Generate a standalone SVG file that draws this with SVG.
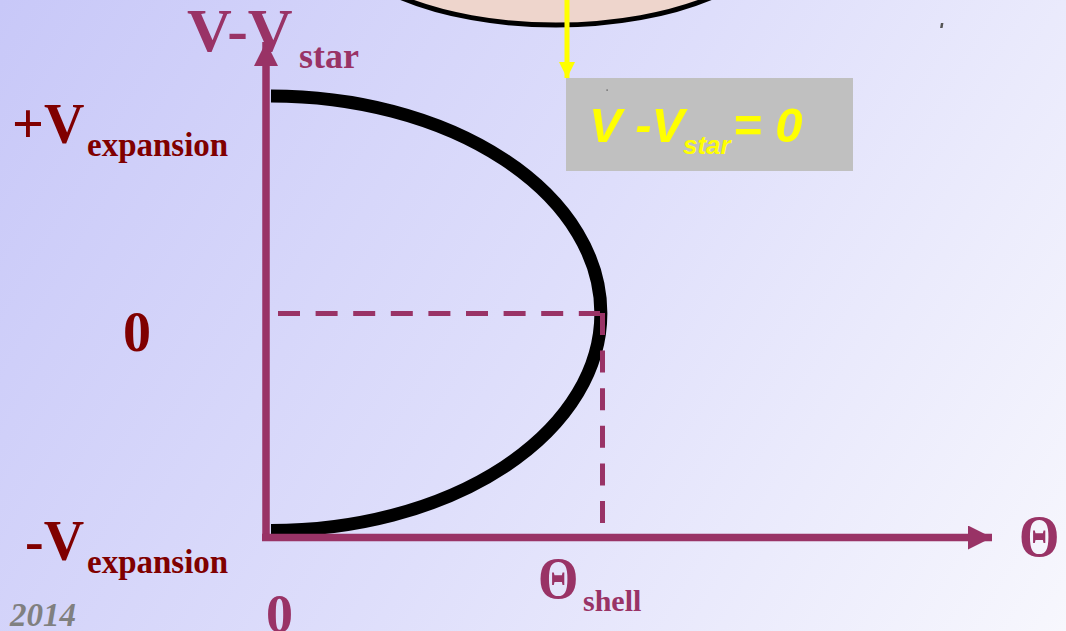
<svg xmlns="http://www.w3.org/2000/svg" width="1066" height="631" viewBox="0 0 1066 631">
  <defs>
    <linearGradient id="bg" x1="0" y1="0" x2="1066" y2="631" gradientUnits="userSpaceOnUse">
      <stop offset="0" stop-color="#c8c8f8"/>
      <stop offset="0.5" stop-color="#dedefb"/>
      <stop offset="1" stop-color="#f7f7fd"/>
    </linearGradient>
    <marker id="axisHead" viewBox="0 0 10 10" refX="10" refY="5" markerUnits="userSpaceOnUse" markerWidth="24" markerHeight="24" orient="auto">
      <path d="M0,0 L10,5 L0,10 Z" fill="#993366"/>
    </marker>
    <marker id="yellowHead" viewBox="0 0 10 10" refX="10" refY="5" markerUnits="userSpaceOnUse" markerWidth="16" markerHeight="16" orient="auto">
      <path d="M0,0 L10,5 L0,10 Z" fill="#ffff00"/>
    </marker>
  </defs>
  <style>
    .axis { stroke: #993366; stroke-width: 7.5; fill: none; }
    .dash { stroke: #993366; stroke-width: 5; stroke-dasharray: 22 15.6; fill: none; }
    .lblP { font-family: "Liberation Serif", serif; font-weight: bold; fill: #993366; }
    .lblR { font-family: "Liberation Serif", serif; font-weight: bold; fill: #800000; }
    .boxTxt { font-family: "Liberation Sans", sans-serif; font-weight: bold; font-style: italic; fill: #ffff00; }
  </style>

  <rect x="0" y="0" width="1066" height="631" fill="url(#bg)"/>

  <g id="star-ellipse">
    <ellipse cx="556" cy="-80" rx="230" ry="105" fill="#eed5cc" stroke="#000" stroke-width="5"/>
  </g>

  <g id="note-box">
    <rect x="566" y="78" width="287" height="93" fill="#c0c0c0"/>
    <text class="boxTxt"><tspan x="589" y="142" font-size="49">V -V</tspan><tspan x="683" y="154" font-size="26">star</tspan><tspan x="733" y="142" font-size="49">= 0</tspan></text>
    <rect x="606.5" y="89.5" width="1.2" height="1.2" fill="#444"/>
  </g>

  <rect x="941" y="23" width="2.5" height="5" fill="#555" transform="skewX(-10) translate(4 0)"/>

  <g id="curve">
    <path d="M271,96 A330,217.25 0 0 1 271,530.5" fill="none" stroke="#000" stroke-width="13"/>
  </g>

  <g id="connectors">
    <line x1="567" y1="0" x2="567" y2="78" stroke="#ffff00" stroke-width="5" marker-end="url(#yellowHead)"/>
    <line class="axis" x1="266" y1="541" x2="266" y2="42" marker-end="url(#axisHead)"/>
    <line class="axis" x1="262" y1="537.5" x2="992" y2="537.5" marker-end="url(#axisHead)"/>
    <line class="dash" x1="278" y1="313.5" x2="600" y2="313.5"/>
    <line class="dash" x1="602.5" y1="313" x2="602.5" y2="524"/>
  </g>

  <g id="label-vvstar">
    <text class="lblP"><tspan x="187" y="51" font-size="62">V-V</tspan><tspan x="299" y="68" font-size="36">star</tspan></text>
  </g>
  <g id="label-plus-vexp">
    <text class="lblR"><tspan x="12" y="143" font-size="56">+V</tspan><tspan x="87" y="156" font-size="33">expansion</tspan></text>
  </g>
  <g id="label-zero-left">
    <text class="lblR" x="123" y="351" font-size="56">0</text>
  </g>
  <g id="label-minus-vexp">
    <text class="lblR"><tspan x="25" y="560" font-size="56">-V</tspan><tspan x="87" y="573" font-size="33">expansion</tspan></text>
  </g>
  <g id="label-zero-bottom">
    <text class="lblP" x="266" y="632" font-size="54">0</text>
  </g>
  <g id="label-theta-shell">
    <text class="lblP" transform="translate(538 598) scale(0.88 1)" font-size="59">Θ</text>
    <text class="lblP" x="583" y="611" font-size="30">shell</text>
  </g>
  <g id="label-theta">
    <text class="lblP" transform="translate(1019 556) scale(0.88 1)" font-size="59">Θ</text>
  </g>
  <g id="label-year">
    <text x="10" y="626" font-family="Liberation Serif, serif" font-weight="bold" font-style="italic" font-size="33" fill="#808080">2014</text>
  </g>
</svg>
